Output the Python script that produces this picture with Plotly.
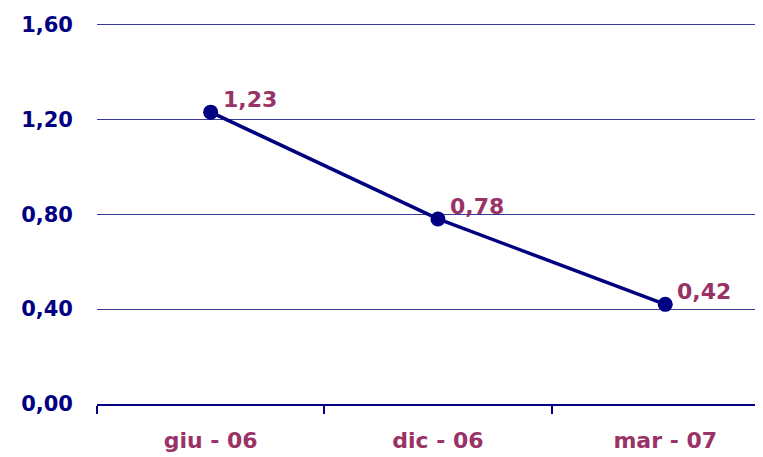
import plotly.graph_objects as go

categories = ["giu - 06", "dic - 06", "mar - 07"]
values = [1.23, 0.78, 0.42]
value_labels = ["1,23", "0,78", "0,42"]
y_ticks = [0.0, 0.4, 0.8, 1.2, 1.6]
y_tick_labels = ["0,00", "0,40", "0,80", "1,20", "1,60"]

NAVY = "#000080"
MAROON = "#993366"
FONT = "DejaVu Sans"

fig = go.Figure()
fig.add_trace(go.Scatter(
    x=categories, y=values, mode="lines+markers",
    line=dict(color=NAVY, width=3.5),
    marker=dict(color=NAVY, size=15),
    hoverinfo="skip", showlegend=False, cliponaxis=False,
))

for c, v, t in zip(categories, values, value_labels):
    fig.add_annotation(x=c, y=v, text=f"<b>{t}</b>", showarrow=False,
                       xanchor="left", yanchor="bottom", xshift=10, yshift=-2,
                       font=dict(family=FONT, size=22, color=MAROON))

fig.update_layout(
    width=755, height=449,
    margin=dict(l=89, r=0, t=14, b=53, autoexpand=False),
    paper_bgcolor="white", plot_bgcolor="white",
    xaxis=dict(
        type="category", range=[-0.5, 2.43],
        showgrid=False, showline=True, linecolor=NAVY, linewidth=1.5,
        ticks="outside", tickson="boundaries", ticklen=8, tickcolor=NAVY, tickwidth=1.5,
        tickfont=dict(family=FONT, size=22, color=MAROON), ticklabelstandoff=16,
        tickvals=categories, ticktext=[f"<b>{c}</b>" for c in categories],
        zeroline=False, automargin=False,
    ),
    yaxis=dict(
        range=[0, 1.61], tickvals=y_ticks, ticktext=[f"<b>{t}</b>" for t in y_tick_labels],
        showgrid=True, gridcolor="#3a3a98", gridwidth=1.3,
        zeroline=False, showline=False, ticks="", ticklabelstandoff=23,
        tickfont=dict(family=FONT, size=21, color=NAVY), automargin=False,
    ),
)

fig.write_html("out.html")
